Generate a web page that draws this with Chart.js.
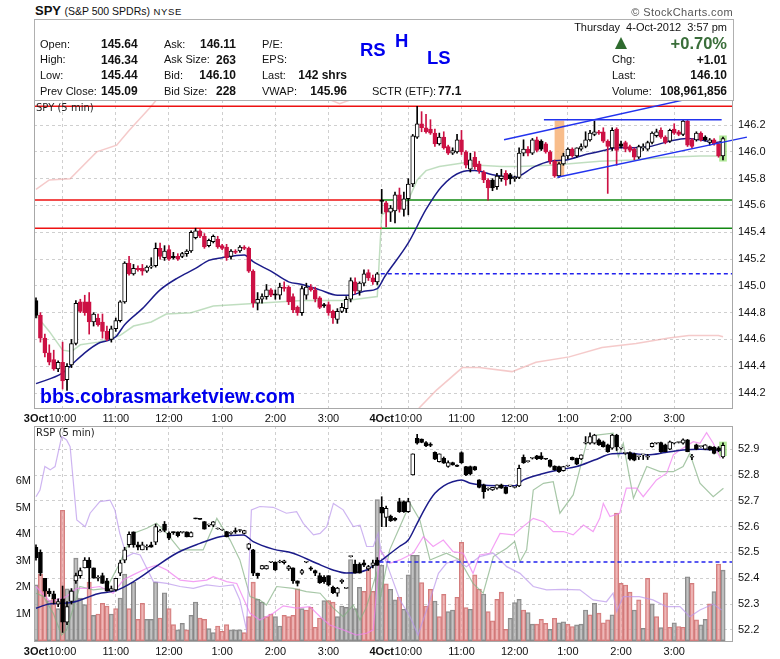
<!DOCTYPE html>
<html>
<head>
<meta charset="utf-8">
<script src="https://cdn.jsdelivr.net/npm/chart.js@4.4.1/dist/chart.umd.min.js"></script>
<style>
  body { margin: 0; background: #fff; width: 780px; height: 659px; overflow: hidden; position: relative;
         font-family: 'Liberation Sans', Arial, sans-serif; color: #111; }
  .t { position: absolute; white-space: nowrap; line-height: 1; }
  .lb { font-size: 11px; }
  .vb { font-size: 12px; font-weight: bold; }
  .blue { color: #0000ee; font-weight: bold; }
  canvas { position: absolute; left: 0; }
</style>
</head>
<body>
<canvas id="spyChart" width="780" height="325" style="top:100px"></canvas>
<canvas id="rspChart" width="780" height="234" style="top:425px"></canvas>

<!-- header -->
<div class="t" style="left:35px;top:4px;font-size:13px;font-weight:bold">SPY <span style="font-size:10.5px;font-weight:normal">(S&amp;P 500 SPDRs)</span> <span style="font-size:9.5px;font-weight:normal;letter-spacing:0.6px">NYSE</span></div>
<div class="t" style="right:47px;top:7px;font-size:11px;color:#555;letter-spacing:0.4px">© StockCharts.com</div>
<div style="position:absolute;left:34px;top:19px;width:700px;height:82px;border:1px solid #b0b0b0;box-sizing:border-box"></div>

<div class="t lb" style="left:40px;top:39px">Open:</div>
<div class="t lb" style="left:40px;top:54px">High:</div>
<div class="t lb" style="left:40px;top:70px">Low:</div>
<div class="t lb" style="left:40px;top:86px">Prev Close:</div>
<div class="t vb" style="left:101px;top:38px">145.64</div>
<div class="t vb" style="left:101px;top:54px">146.34</div>
<div class="t vb" style="left:101px;top:69px">145.44</div>
<div class="t vb" style="left:101px;top:85px">145.09</div>

<div class="t lb" style="left:164px;top:39px">Ask:</div>
<div class="t lb" style="left:164px;top:54px">Ask Size:</div>
<div class="t lb" style="left:164px;top:70px">Bid:</div>
<div class="t lb" style="left:164px;top:86px">Bid Size:</div>
<div class="t vb" style="right:544px;top:38px">146.11</div>
<div class="t vb" style="right:544px;top:54px">263</div>
<div class="t vb" style="right:544px;top:69px">146.10</div>
<div class="t vb" style="right:544px;top:85px">228</div>

<div class="t lb" style="left:262px;top:39px">P/E:</div>
<div class="t lb" style="left:262px;top:54px">EPS:</div>
<div class="t lb" style="left:262px;top:70px">Last:</div>
<div class="t lb" style="left:262px;top:86px">VWAP:</div>
<div class="t vb" style="right:433px;top:69px">142 shrs</div>
<div class="t vb" style="right:433px;top:85px">145.96</div>
<div class="t lb" style="left:372px;top:86px">SCTR (ETF):</div>
<div class="t vb" style="left:438px;top:85px">77.1</div>

<div class="t" style="right:53px;top:22px;font-size:11px">Thursday&nbsp; 4-Oct-2012&nbsp; 3:57 pm</div>
<div style="position:absolute;left:615px;top:37px;width:0;height:0;border-left:6.5px solid transparent;border-right:6.5px solid transparent;border-bottom:12px solid #2f6b2f"></div>
<div class="t" style="right:53px;top:35px;font-size:16.5px;font-weight:bold;color:#3a6e3a">+0.70%</div>
<div class="t lb" style="left:612px;top:54px">Chg:</div>
<div class="t lb" style="left:612px;top:70px">Last:</div>
<div class="t lb" style="left:612px;top:86px">Volume:</div>
<div class="t vb" style="right:53px;top:54px">+1.01</div>
<div class="t vb" style="right:53px;top:69px">146.10</div>
<div class="t vb" style="right:53px;top:85px">108,961,856</div>

<div class="t blue" style="left:360px;top:41px;font-size:18.5px">RS</div>
<div class="t blue" style="left:395px;top:32px;font-size:18.5px">H</div>
<div class="t blue" style="left:427px;top:49px;font-size:18.5px">LS</div>

<div class="t" style="left:36px;top:102px;font:10px 'DejaVu Sans';color:#222">SPY (5 min)</div>
<div class="t" style="left:36px;top:427px;font:10px 'DejaVu Sans';color:#222">RSP (5 min)</div>
<div class="t blue" style="left:40px;top:387px;font-size:19.5px">bbs.cobrasmarketview.com</div>

<script>
// --- x axis: 5-minute bars, 3 Oct = bars 0..77, 4 Oct = bars 78..155 ---
const tickVals   = [0, 6, 18, 30, 42, 54, 66, 78, 84, 96, 108, 120, 132, 144];
const tickLabels = ['3Oct', '10:00', '11:00', '12:00', '1:00', '2:00', '3:00',
                    '4Oct', '10:00', '11:00', '12:00', '1:00', '2:00', '3:00'];
const spyTicks = [144.2, 144.4, 144.6, 144.8, 145.0, 145.2, 145.4, 145.6, 145.8, 146.0, 146.2];
const rspTicks = [52.2, 52.3, 52.4, 52.5, 52.6, 52.7, 52.8, 52.9];
const volTicks = [1, 2, 3, 4, 5, 6];

// --- SPY 5 min OHLC ---
const spyOpen = [
  144.89,144.78,144.61,144.50,144.45,144.38,144.43,144.30,144.41,144.57,
  144.88,144.88,144.88,144.73,144.76,144.73,144.66,144.60,144.68,144.74,
  144.88,145.17,145.09,145.13,145.13,145.11,145.14,145.15,145.28,145.21,
  145.27,145.22,145.22,145.22,145.24,145.26,145.36,145.41,145.37,145.30,
  145.33,145.35,145.30,145.29,145.22,145.26,145.26,145.29,145.28,145.11,
  144.87,144.90,144.92,144.97,144.94,144.93,144.99,144.99,144.92,144.84,
  144.80,144.93,144.99,144.97,144.91,144.86,144.86,144.81,144.75,144.81,
  144.83,144.90,145.03,144.96,145.02,145.10,145.06,145.03,
  145.64,145.62,145.55,145.56,145.68,145.57,145.65,145.76,146.11,146.21,
  146.18,146.17,146.14,146.06,146.11,146.04,145.99,146.00,146.09,146.00,
  145.87,145.96,145.91,145.85,145.79,145.79,145.74,145.80,145.84,145.83,
  145.80,145.81,145.99,146.02,145.99,146.09,146.08,146.06,146.00,
  145.93,145.82,145.91,145.97,146.02,145.97,146.02,146.04,146.09,146.13,
  146.15,146.15,146.08,146.03,146.17,146.06,146.07,146.04,146.02,145.96,
  146.03,146.02,146.07,146.12,146.16,146.11,146.08,146.17,146.15,146.13,
  146.23,146.09,146.09,146.14,146.11,146.07,146.09,146.06,145.97
];
const spyHigh = [
  144.91,144.80,144.64,144.56,144.52,144.44,144.58,144.42,144.60,144.89,
  144.90,144.93,144.95,144.80,144.79,144.79,144.70,144.70,144.76,144.89,
  145.18,145.22,145.16,145.15,145.16,145.15,145.21,145.32,145.32,145.30,
  145.30,145.25,145.24,145.25,145.27,145.41,145.43,145.42,145.39,145.35,
  145.38,145.37,145.31,145.31,145.27,145.27,145.30,145.30,145.29,145.12,
  144.95,144.94,145.01,144.98,144.97,145.02,145.03,145.00,144.94,144.85,
  145.00,145.02,145.01,144.99,144.92,144.87,144.88,144.82,144.83,144.87,
  144.92,145.06,145.06,145.03,145.12,145.12,145.08,145.10,
  145.72,145.63,145.60,145.70,145.73,145.70,145.80,146.13,146.34,146.30,
  146.28,146.24,146.17,146.14,146.15,146.05,146.03,146.13,146.16,146.01,
  145.99,146.00,145.93,145.86,145.80,145.80,145.84,145.87,145.86,145.84,
  145.82,146.03,146.09,146.04,146.10,146.11,146.09,146.07,146.01,
  145.94,145.92,145.99,146.03,146.03,146.03,146.06,146.15,146.16,146.23,
  146.16,146.18,146.09,146.18,146.18,146.08,146.08,146.05,146.03,146.05,
  146.06,146.08,146.15,146.17,146.18,146.12,146.17,146.21,146.16,146.24,
  146.24,146.10,146.15,146.15,146.12,146.10,146.10,146.07,146.11
];
const spyLow = [
  144.76,144.58,144.47,144.41,144.37,144.36,144.23,144.22,144.39,144.56,
  144.80,144.78,144.64,144.70,144.70,144.61,144.59,144.58,144.66,144.73,
  144.87,145.08,145.08,145.11,145.08,145.10,145.13,145.14,145.20,145.19,
  145.19,145.20,145.19,145.21,145.22,145.25,145.35,145.36,145.28,145.29,
  145.32,145.28,145.27,145.19,145.20,145.24,145.25,145.27,145.10,144.84,
  144.82,144.87,144.90,144.92,144.90,144.90,144.96,144.86,144.80,144.78,
  144.78,144.90,144.96,144.88,144.83,144.84,144.78,144.72,144.72,144.80,
  144.80,144.88,144.94,144.93,145.00,145.04,145.01,145.01,
  145.54,145.44,145.48,145.47,145.55,145.52,145.53,145.74,146.10,146.15,
  146.14,146.13,146.04,146.05,146.02,145.98,145.98,145.99,145.98,145.88,
  145.85,145.87,145.84,145.77,145.64,145.71,145.72,145.78,145.75,145.76,
  145.78,145.80,145.97,145.97,145.98,146.00,146.01,145.99,145.91,
  145.81,145.81,145.90,145.95,145.96,145.96,146.01,146.03,146.08,146.12,
  146.13,146.07,145.69,146.01,145.90,146.03,146.00,146.00,145.94,145.95,
  146.01,146.01,146.06,146.11,146.10,146.06,146.07,146.13,146.12,146.12,
  146.04,146.03,146.08,146.08,146.08,146.05,146.05,145.96,145.94
];
const spyClose = [
  144.78,144.61,144.50,144.43,144.38,144.43,144.29,144.40,144.57,144.87,
  144.81,144.80,144.73,144.79,144.71,144.66,144.60,144.68,144.74,144.88,
  145.17,145.09,145.13,145.12,145.11,145.14,145.15,145.28,145.22,145.26,
  145.20,145.21,145.20,145.24,145.26,145.40,145.41,145.37,145.29,145.34,
  145.37,145.29,145.28,145.21,145.26,145.25,145.29,145.28,145.11,144.87,
  144.90,144.92,144.97,144.93,144.93,144.99,144.98,144.88,144.82,144.80,
  144.98,144.99,144.97,144.90,144.84,144.85,144.80,144.76,144.81,144.84,
  144.90,145.04,144.96,145.02,145.09,145.06,145.03,145.09,
  145.63,145.55,145.58,145.68,145.57,145.65,145.76,146.12,146.21,146.18,
  146.15,146.14,146.06,146.11,146.03,145.99,146.01,146.09,146.00,145.90,
  145.94,145.89,145.86,145.79,145.73,145.73,145.82,145.82,145.79,145.80,
  145.81,145.99,146.02,145.99,146.09,146.01,146.02,146.00,145.93,
  145.82,145.91,145.97,146.02,145.97,146.03,146.04,146.09,146.14,146.15,
  146.14,146.08,146.04,146.16,146.01,146.04,146.02,146.01,145.96,146.04,
  146.04,146.07,146.14,146.15,146.11,146.07,146.16,146.14,146.13,146.23,
  146.05,146.04,146.14,146.09,146.09,146.09,146.06,145.97,146.10
];

// --- SPY overlays, [bar, price] ---
const spyMaPts = [[0,144.27],[6,144.35],[8,144.41],[11,144.50],[14,144.57],[16,144.59],[18,144.62],[20,144.71],
  [24,144.83],[28,144.97],[32,145.06],[36,145.13],[39,145.19],[42,145.21],[47,145.23],[49,145.18],[53,145.11],
  [57,145.03],[60,145.01],[64,144.97],[68,144.93],[71,144.93],[74,144.96],[77,144.98],[78.7,145.07],[84,145.32],
  [88,145.57],[91.5,145.74],[96,145.85],[99,145.86],[103,145.83],[108,145.81],[112.5,145.89],[116,145.93],
  [119.7,145.94],[124,145.98],[128,146.01],[131,146.03],[134.7,146.03],[138.5,146.04],[143,146.08],
  [146.8,146.10],[149.8,146.09],[153.5,146.07],[155,146.08]];
const spyVwapPts = [[0,144.78],[3,144.66],[6,144.52],[8,144.51],[10,144.56],[14,144.58],[19,144.63],[22,144.70],
  [26,144.73],[29.4,144.79],[35,144.80],[40,144.85],[50,144.87],[60,144.89],[70,144.89],[77,144.92],
  [78,145.53],[80,145.57],[84,145.64],[86,145.79],[88,145.86],[91,145.89],[97,145.92],[100,145.90],
  [105,145.89],[109,145.89],[116,145.90],[119.7,145.91],[127.2,145.93],[134.7,145.94],[142.2,145.96],
  [149.8,145.97],[155,145.97]];
const spyPinkPts = [[0,145.72],[3,145.79],[7.7,145.80],[13.7,146.00],[18.2,146.05],[21,146.16],[25.7,146.33],
  [27.5,146.40],[27.6,null],[65.5,146.40],[68.5,146.36],[72,146.40],[72.1,null],
  [84,143.95],[86.5,144.09],[90.3,144.22],[96.2,144.39],[100,144.39],[107.4,144.36],[112.8,144.43],
  [120.3,144.47],[127.7,144.54],[135.4,144.57],[142.8,144.61],[147.3,144.63],[154,144.63],[155,144.62]];

// --- levels and drawn trendlines ---
const dayHigh = 146.34, dayOpen = 145.64, dayLow = 145.43, prevClose = 145.09;
const chanUpper = [[105.6,146.09],[146.5,146.39]];
const chanTop   = [[114.6,146.24],[154.7,146.24]];
const chanLower = [[117.6,145.81],[160.4,146.11]];
const boxOrange = [118.1, 145.82, 146.23];
const boxLastSpy = [155, 145.93, 146.12];

// --- RSP 5 min OHLC ---
const rspOpen = [
  52.52,52.50,52.40,52.35,52.34,52.30,52.32,52.23,52.31,52.39,
  52.41,52.44,52.47,52.44,52.40,52.41,52.39,52.35,52.355,52.42,
  52.47,52.53,52.58,52.53,52.51,52.52,52.53,52.54,52.58,52.61,
  52.575,52.58,52.58,52.578,52.58,52.56,52.632,52.63,52.62,52.606,
  52.606,52.591,52.587,52.581,52.574,52.585,52.585,52.574,52.516,52.51,
  52.42,52.436,52.436,52.462,52.462,52.462,52.46,52.436,52.44,52.39,
  52.42,52.462,52.44,52.43,52.41,52.405,52.41,52.365,52.342,52.386,
  52.361,52.484,52.455,52.455,52.46,52.436,52.45,52.47,
  52.675,52.636,52.641,52.632,52.697,52.697,52.658,52.80,52.942,52.939,
  52.926,52.92,52.888,52.852,52.865,52.833,52.848,52.839,52.887,52.833,
  52.833,52.833,52.781,52.762,52.745,52.742,52.749,52.762,52.752,52.758,
  52.752,52.758,52.869,52.852,52.865,52.874,52.874,52.862,52.858,52.835,
  52.833,52.817,52.835,52.869,52.865,52.862,52.923,52.923,52.923,52.936,
  52.929,52.917,52.904,52.955,52.904,52.884,52.887,52.882,52.871,52.878,
  52.869,52.910,52.923,52.926,52.917,52.900,52.923,52.926,52.923,52.936,
  52.869,52.917,52.910,52.900,52.910,52.908,52.905,52.870
];
const rspHigh = [
  52.53,52.51,52.40,52.36,52.35,52.32,52.37,52.31,52.36,52.42,
  52.44,52.48,52.48,52.44,52.41,52.42,52.40,52.37,52.40,52.47,
  52.52,52.58,52.58,52.54,52.54,52.53,52.54,52.61,52.59,52.62,
  52.58,52.58,52.58,52.58,52.58,52.58,52.633,52.63,52.62,52.61,
  52.62,52.595,52.59,52.582,52.58,52.595,52.59,52.586,52.535,52.512,
  52.42,52.45,52.45,52.464,52.464,52.47,52.47,52.45,52.44,52.39,
  52.435,52.464,52.445,52.432,52.42,52.41,52.41,52.37,52.365,52.395,
  52.362,52.486,52.47,52.46,52.47,52.45,52.47,52.48,
  52.716,52.68,52.645,52.635,52.71,52.70,52.71,52.882,52.958,52.94,
  52.93,52.925,52.89,52.882,52.87,52.855,52.85,52.84,52.89,52.834,
  52.835,52.834,52.782,52.765,52.75,52.752,52.762,52.765,52.755,52.76,
  52.755,52.839,52.878,52.855,52.868,52.876,52.887,52.863,52.86,52.836,
  52.835,52.834,52.837,52.87,52.866,52.878,52.949,52.964,52.958,52.94,
  52.932,52.92,52.958,52.958,52.906,52.886,52.89,52.885,52.873,52.88,
  52.88,52.925,52.925,52.928,52.92,52.932,52.925,52.928,52.94,52.938,
  52.88,52.92,52.912,52.918,52.912,52.91,52.91,52.925
];
const rspLow = [
  52.47,52.41,52.33,52.33,52.30,52.29,52.19,52.22,52.30,52.38,
  52.40,52.44,52.36,52.40,52.39,52.38,52.35,52.35,52.35,52.41,
  52.46,52.52,52.52,52.51,52.51,52.51,52.52,52.53,52.58,52.58,
  52.55,52.57,52.56,52.575,52.56,52.56,52.63,52.628,52.59,52.60,
  52.60,52.59,52.585,52.56,52.57,52.574,52.58,52.572,52.51,52.41,
  52.40,52.435,52.435,52.46,52.43,52.46,52.455,52.43,52.38,52.37,
  52.415,52.46,52.43,52.41,52.38,52.38,52.37,52.34,52.33,52.38,
  52.36,52.482,52.42,52.42,52.445,52.43,52.44,52.45,
  52.600,52.60,52.62,52.622,52.655,52.655,52.655,52.80,52.92,52.925,
  52.91,52.91,52.86,52.85,52.845,52.83,52.838,52.832,52.845,52.798,
  52.80,52.818,52.75,52.71,52.74,52.74,52.745,52.748,52.727,52.755,
  52.75,52.755,52.845,52.85,52.862,52.86,52.86,52.86,52.83,52.818,
  52.81,52.815,52.833,52.858,52.84,52.86,52.92,52.92,52.92,52.915,
  52.908,52.888,52.90,52.895,52.90,52.88,52.858,52.855,52.86,52.86,
  52.86,52.908,52.92,52.888,52.89,52.898,52.92,52.924,52.92,52.89,
  52.86,52.898,52.908,52.898,52.896,52.882,52.89,52.865
];
const rspClose = [
  52.48,52.42,52.35,52.34,52.32,52.31,52.23,52.29,52.35,52.41,
  52.43,52.47,52.44,52.40,52.40,52.38,52.35,52.36,52.40,52.46,
  52.51,52.57,52.53,52.52,52.53,52.52,52.52,52.60,52.58,52.585,
  52.555,52.577,52.565,52.578,52.56,52.577,52.63,52.628,52.59,52.606,
  52.619,52.591,52.587,52.561,52.574,52.58,52.585,52.585,52.533,52.42,
  52.41,52.449,52.449,52.462,52.432,52.462,52.468,52.445,52.39,52.38,
  52.43,52.462,52.435,52.42,52.383,52.387,52.374,52.344,52.362,52.393,
  52.361,52.484,52.42,52.42,52.451,52.445,52.46,52.45,
  52.652,52.671,52.623,52.625,52.658,52.658,52.697,52.882,52.923,52.926,
  52.913,52.915,52.861,52.882,52.846,52.848,52.839,52.833,52.848,52.800,
  52.804,52.820,52.752,52.736,52.745,52.752,52.762,52.749,52.729,52.758,
  52.755,52.826,52.848,52.852,52.865,52.862,52.862,52.861,52.833,52.820,
  52.813,52.833,52.835,52.860,52.842,52.878,52.923,52.949,52.955,52.917,
  52.910,52.891,52.955,52.910,52.904,52.884,52.861,52.858,52.871,52.878,
  52.869,52.923,52.923,52.891,52.891,52.929,52.923,52.926,52.936,52.891,
  52.869,52.900,52.910,52.917,52.897,52.884,52.895,52.915
];

// --- volume (millions) and bar colour: g = up (grey), r = down (red) ---
const volM = [
  2.1,2.5,1.9,1.5,1.6,1.2,4.9,1.95,1.9,3.1,
  1.6,1.35,2.2,0.95,1.0,1.4,1.3,1.0,1.2,1.6,
  2.5,1.2,2.2,0.8,1.4,0.8,0.8,2.2,0.85,1.8,
  1.2,0.6,0.4,0.65,0.4,0.95,1.45,0.85,0.8,0.45,
  0.3,0.55,0.35,0.6,0.4,0.4,0.4,0.3,0.9,2.2,
  1.55,1.45,0.9,1.0,0.9,0.55,0.95,0.9,0.95,1.95,
  1.2,1.15,1.25,0.5,0.85,1.5,1.5,1.45,0.9,1.3,
  1.25,3.05,1.2,2.0,1.85,2.75,1.85,5.3,
  2.84,2.13,1.93,1.53,1.63,1.18,2.47,3.21,3.21,2.18,
  1.30,1.93,1.49,0.90,1.74,1.09,1.15,1.63,3.69,1.24,
  1.18,2.47,1.94,1.75,1.09,0.74,1.55,1.82,0.42,0.84,
  1.43,1.55,1.15,1.05,0.62,0.62,0.80,0.65,0.42,0.84,
  0.67,0.71,0.62,0.53,0.59,0.62,1.15,0.97,1.40,1.03,
  0.67,0.78,0.97,4.79,2.15,2.09,1.82,1.15,1.53,0.46,
  2.34,1.38,0.90,0.49,1.80,0.50,0.67,0.53,0.50,2.40,
  2.15,0.78,0.59,0.80,1.38,1.84,2.88,2.65
];
const volDir =
  'grrgrgrggg' + 'ggrgrrrgrg' + 'grgrrgggrg' + 'rrggrggrrg' + 'grrrgggrrr' + 'ggrrggrrrr' + 'grrrrgrrgg' + 'ggggrrrg' +
  'grggrggggr' + 'rrgrrggrrr' + 'grrgrrrrrg' + 'ggrggrrrgr' + 'ggrrgggrgr' + 'rrgrrrrgrg' + 'rgrgrrgrrg' + 'rrggrgrg';

// --- RSP overlays, [bar, price] ---
const rspMaPts = [[0,52.284],[3,52.300],[8,52.306],[14,52.340],[18,52.352],[22,52.387],[26.5,52.439],[31.7,52.497],
  [37,52.535],[41.5,52.561],[46.8,52.568],[49,52.542],[53.5,52.513],[58,52.497],[63.3,52.458],[67,52.432],
  [70,52.420],[74.6,52.432],[77,52.460],[78,52.470],[80,52.497],[82,52.523],[84,52.548],[86,52.613],[88,52.678],
  [90,52.729],[92,52.758],[94,52.774],[96,52.781],[98,52.768],[100,52.762],[104,52.758],[108,52.758],[110,52.781],
  [114,52.804],[118,52.820],[122,52.833],[126,52.858],[130,52.882],[134,52.884],[138,52.878],[142,52.887],
  [146,52.897],[150,52.900],[155,52.895]];
const rspPurplePts = [[0,52.716],[0.9,52.742],[2,52.833],[3.2,52.820],[4.3,52.833],[5.8,52.949],[6.9,52.936],
  [7.7,52.910],[9.2,52.626],[11.1,52.600],[12.2,52.652],[14.4,52.697],[16.7,52.703],[17.8,52.665],[18.9,52.574],
  [20.5,52.484],[22,52.497],[23.5,52.490],[26.5,52.387],[29.5,52.380],[32.5,52.368],[35.5,52.361],[38.5,52.374],
  [41.5,52.368],[44.5,52.374],[46,52.316],[47.5,52.200],[48.6,52.665],[50.5,52.678],[53.5,52.675],[56.5,52.652],
  [58.8,52.658],[60.3,52.613],[62.6,52.568],[64.1,52.574],[65.6,52.600],[67.1,52.690],[69.3,52.665],[71.6,52.600],
  [73.1,52.606],[74.6,52.523],[76.1,52.523],[77.2,52.574],[77.8,52.510],[78.7,52.477],[82.1,52.316],[84.4,52.251],
  [86.2,52.180],[88.9,52.316],[90.8,52.419],[92.6,52.458],[94.9,52.471],[97.1,52.445],[100.1,52.484],[103.2,52.497],
  [106.2,52.445],[109.2,52.419],[112.2,52.368],[115.2,52.355],[118.9,52.357],[122.7,52.355],[125.7,52.316],
  [128.7,52.309],[130.2,52.342],[131,52.271],[132.5,52.329],[136.1,52.329],[139.2,52.316],[142.2,52.290],
  [145.3,52.290],[147.5,52.251],[149.8,52.277],[152.8,52.300],[154.7,52.277]];
const rspMagentaPts = [[0,52.368],[3.2,52.309],[6.9,52.329],[9.2,52.361],[11.4,52.361],[14.4,52.368],[17.4,52.342],
  [19.7,52.393],[21.9,52.413],[25,52.439],[27.2,52.451],[29.5,52.432],[32.5,52.393],[35.5,52.387],[38.5,52.393],
  [40,52.406],[43,52.387],[45.3,52.380],[46.8,52.322],[48.3,52.264],[50.5,52.238],[53.5,52.264],[55.8,52.293],
  [58.8,52.284],[61.8,52.290],[64.1,52.251],[66.3,52.219],[69.3,52.200],[72.3,52.180],[74.6,52.187],[76.1,52.200],
  [77.6,52.510],[79.8,52.458],[82.1,52.471],[85.1,52.497],[87.4,52.561],[89.6,52.523],[91.9,52.548],[94.1,52.503],
  [96.4,52.497],[98.6,52.419],[100.1,52.490],[102.4,52.497],[104.7,52.574],[107.7,52.568],[109.9,52.600],
  [112.2,52.632],[114.5,52.619],[116.7,52.581],[119,52.581],[121.2,52.568],[123.5,52.606],[125.7,52.581],
  [127.2,52.632],[128,52.690],[129.5,52.639],[131.7,52.652],[133.2,52.749],[135.5,52.749],[137,52.716],
  [140,52.781],[142.3,52.807],[143.8,52.878],[145.3,52.897],[148.3,52.929],[149.8,52.923],[151.3,52.964],
  [152.8,52.923],[154.4,52.865]];
const rspGreenPts = [[0,52.342],[1.7,52.329],[3.9,52.264],[5.8,52.180],[6.9,52.200],[9.9,52.368],[12.9,52.355],
  [15.9,52.361],[18.9,52.458],[21.9,52.574],[25,52.594],[27.2,52.613],[29.5,52.574],[32.5,52.510],[35.5,52.510],
  [37.7,52.510],[40.8,52.632],[43.8,52.548],[46,52.471],[48.3,52.329],[50.5,52.316],[52,52.296],[54.3,52.368],
  [58,52.361],[61,52.348],[64.1,52.342],[67.1,52.284],[69.3,52.251],[71.6,52.296],[73.1,52.238],[74.6,52.290],
  [76.8,52.419],[77.6,52.316],[79.8,52.510],[82.1,52.600],[84.4,52.690],[86.6,52.626],[88.9,52.471],[92.6,52.497],
  [95.6,52.471],[98.6,52.380],[100.9,52.342],[103.2,52.484],[106.2,52.516],[108,52.542],[109.2,52.464],
  [110.7,52.510],[112.2,52.742],[114.5,52.768],[116.7,52.774],[118.2,52.652],[121.2,52.723],[124.2,52.923],
  [126.5,52.955],[130.2,52.962],[131.4,52.871],[132.5,52.923],[134.8,52.710],[137.8,52.833],[140.8,52.813],
  [143.8,52.813],[146,52.833],[147.5,52.884],[149.8,52.768],[152.8,52.716],[155.1,52.749]];
const rspPrevClose = 52.463;
const boxLastRsp = [155, 52.875, 52.928];

// --- chart setup ---
const FONT = "'Liberation Sans', Arial, sans-serif";
const RED = '#cc1144';
const GRID = '#cfcfcf';
const xMin = -0.45, xMax = 157.26;
Chart.defaults.font.family = FONT;
Chart.defaults.font.size = 11;
Chart.defaults.color = '#111';

const bars = spyOpen.map((_, i) => i);
const toXY = pts => pts.map(p => ({ x: p[0], y: p[1] }));
const flat = (x0, x1, v) => [{ x: x0, y: v }, { x: x1, y: v }];

function lineDs(data, color, width, order, extra) {
  return Object.assign({ type: 'line', data, borderColor: color, borderWidth: width,
    pointRadius: 0, fill: false, order }, extra || {});
}
function boxDs(box, color, thickness, order, yAxisID) {
  return { type: 'bar', data: [{ x: box[0], y: [box[1], box[2]] }], backgroundColor: color,
    barThickness: thickness, grouped: false, borderWidth: 0, order, yAxisID };
}

// hollow = up bar, filled red = down vs previous close, filled black = down but above previous close
function spyColor(i) {
  if (spyClose[i] >= spyOpen[i]) return { fill: '#ffffff', line: '#000000' };
  const prev = i > 0 ? spyClose[i - 1] : -Infinity;
  return spyClose[i] < prev ? { fill: RED, line: RED } : { fill: '#000000', line: '#000000' };
}

// keep the plot area fixed: no extra room for label overflow
function noOverflow(s) {
  s.paddingTop = 0; s.paddingBottom = 0; s.paddingLeft = 0; s.paddingRight = 0;
}

function xAxis(height) {
  return {
    type: 'linear', min: xMin, max: xMax, offset: false,
    afterBuildTicks: s => { s.ticks = tickVals.map(v => ({ value: v })); },
    afterFit: s => { s.height = height; noOverflow(s); },
    grid: { offset: false, drawTicks: false,
      color: c => (c.tick && c.tick.value === 0) ? 'rgba(0,0,0,0)' : GRID },
    border: { display: false, dash: [3, 3] },
    ticks: {
      autoSkip: false, maxRotation: 0, padding: 3, color: '#111',
      font: c => ({ family: FONT, size: 11,
        weight: (c.tick && (c.tick.value === 0 || c.tick.value === 78)) ? 'bold' : 'normal' }),
      callback: v => { const k = tickVals.indexOf(v); return k < 0 ? '' : tickLabels[k]; }
    }
  };
}

function priceAxis(min, max, ticks) {
  return {
    type: 'linear', position: 'right', min, max,
    afterBuildTicks: s => { s.ticks = ticks.map(v => ({ value: v })); },
    afterFit: s => { s.width = 47; noOverflow(s); },
    grid: { color: GRID, drawTicks: false },
    border: { display: false, dash: [3, 3] },
    ticks: { padding: 5, color: '#111', callback: v => v.toFixed(1) }
  };
}

const framePlugin = {
  id: 'frame',
  afterDraw(chart) {
    const { ctx, chartArea: a } = chart;
    ctx.save();
    ctx.strokeStyle = '#a8a8a8';
    ctx.lineWidth = 1;
    ctx.strokeRect(Math.round(a.left) + 0.5, Math.round(a.top) + 0.5,
      Math.round(a.right - a.left) - 1, Math.round(a.bottom - a.top) - 1);
    ctx.restore();
  }
};

const baseOptions = {
  responsive: false, animation: false,
  plugins: { legend: { display: false }, tooltip: { enabled: false } }
};

// --- SPY panel ---
new Chart(document.getElementById('spyChart').getContext('2d'), {
  type: 'bar',
  data: {
    datasets: [
      boxDs(boxOrange, 'rgba(246,172,110,0.8)', 9, 20, 'y'),
      boxDs(boxLastSpy, 'rgba(165,230,135,0.85)', 7, 20, 'y'),
      lineDs(toXY(spyPinkPts), 'rgba(235,150,150,0.5)', 1.5, 12),
      lineDs(toXY(spyVwapPts), 'rgba(140,195,140,0.55)', 1.5, 11),
      lineDs(flat(xMin, xMax, dayHigh), '#ee1111', 1.5, 10),
      lineDs(flat(xMin, 78, dayOpen), '#ee1111', 1.5, 10),
      lineDs(flat(78, xMax, dayOpen), '#118811', 1.5, 10),
      lineDs(flat(xMin, 78, dayLow), '#ee1111', 1.5, 10),
      lineDs(flat(78, xMax, dayLow), '#118811', 1.5, 10),
      lineDs(flat(77.8, xMax, prevClose), '#2222ee', 1.5, 9, { borderDash: [4, 3] }),
      lineDs(toXY(spyMaPts), '#1c1c8a', 1.5, 8, { cubicInterpolationMode: 'monotone' }),
      {
        type: 'bar', order: 6, grouped: false, barThickness: 1, borderWidth: 0,
        data: bars.map(i => ({ x: i, y: [spyLow[i], spyHigh[i]] })),
        backgroundColor: c => spyColor(c.dataIndex).line
      },
      {
        type: 'bar', order: 5, grouped: false, barThickness: 4, minBarLength: 1,
        borderWidth: 1, borderSkipped: false,
        data: bars.map(i => ({ x: i, y: [spyOpen[i], spyClose[i]] })),
        backgroundColor: c => spyColor(c.dataIndex).fill,
        borderColor: c => spyColor(c.dataIndex).line
      },
      lineDs(toXY(chanUpper), '#2233ee', 1.5, 2),
      lineDs(toXY(chanTop), '#2233ee', 1.5, 2),
      lineDs(toXY(chanLower), '#2233ee', 1.5, 2, { clip: false })
    ]
  },
  options: Object.assign({}, baseOptions, {
    layout: { padding: { left: 34, top: 0, right: 0, bottom: 0 } },
    scales: {
      x: xAxis(16),
      y: priceAxis(144.081, 146.387, spyTicks)
    }
  }),
  plugins: [framePlugin]
});

// --- RSP panel with volume ---
new Chart(document.getElementById('rspChart').getContext('2d'), {
  type: 'bar',
  data: {
    datasets: [
      boxDs(boxLastRsp, 'rgba(165,230,135,0.85)', 7, 20, 'y'),
      {
        type: 'bar', order: 15, grouped: false, barThickness: 4.4, borderWidth: 1, borderSkipped: false,
        yAxisID: 'v',
        data: bars.map(i => ({ x: i, y: volM[i] })),
        backgroundColor: c => volDir[c.dataIndex] === 'r' ? 'rgba(232,155,155,0.72)' : 'rgba(170,170,170,0.72)',
        borderColor: c => volDir[c.dataIndex] === 'r' ? 'rgba(205,110,110,0.9)' : 'rgba(125,125,125,0.9)'
      },
      lineDs(toXY(rspPurplePts), 'rgba(185,150,235,0.7)', 1.2, 12, { yAxisID: 'y' }),
      lineDs(toXY(rspMagentaPts), 'rgba(240,130,240,0.75)', 1.2, 12, { yAxisID: 'y' }),
      lineDs(toXY(rspGreenPts), 'rgba(130,175,130,0.7)', 1.2, 12, { yAxisID: 'y' }),
      lineDs(toXY(rspMaPts), '#1c1c8a', 1.5, 8, { yAxisID: 'y', cubicInterpolationMode: 'monotone' }),
      lineDs(flat(77.5, xMax, rspPrevClose), '#2222ee', 1.5, 7, { yAxisID: 'y', borderDash: [4, 3] }),
      {
        type: 'bar', order: 6, grouped: false, barThickness: 1, borderWidth: 0, yAxisID: 'y',
        data: bars.map(i => ({ x: i, y: [rspLow[i], rspHigh[i]] })),
        backgroundColor: '#000'
      },
      {
        type: 'bar', order: 5, grouped: false, barThickness: 4, minBarLength: 1,
        borderWidth: 1, borderSkipped: false, yAxisID: 'y',
        data: bars.map(i => ({ x: i, y: [rspOpen[i], rspClose[i]] })),
        backgroundColor: c => rspClose[c.dataIndex] < rspOpen[c.dataIndex] ? '#000' : '#fff',
        borderColor: '#000'
      }
    ]
  },
  options: Object.assign({}, baseOptions, {
    layout: { padding: { left: 0, top: 1, right: 0, bottom: 0 } },
    scales: {
      x: xAxis(17),
      y: priceAxis(52.153, 52.990, rspTicks),
      v: {
        type: 'linear', position: 'left', min: -0.053, max: 8.068,
        afterBuildTicks: s => { s.ticks = volTicks.map(v => ({ value: v })); },
        afterFit: s => { s.width = 34; noOverflow(s); },
        grid: { display: false, drawTicks: false },
        border: { display: false },
        ticks: { padding: 3, color: '#111', callback: v => v + 'M' }
      }
    }
  }),
  plugins: [framePlugin]
});
</script>
</body>
</html>
